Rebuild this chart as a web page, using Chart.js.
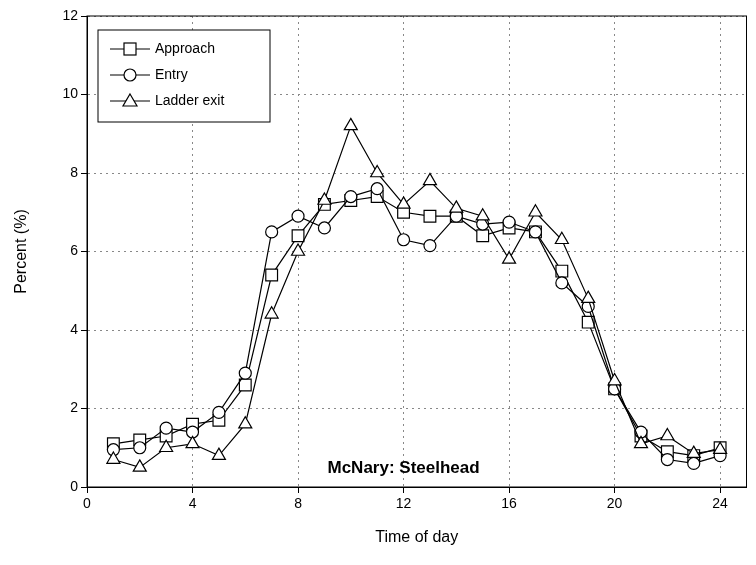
<!DOCTYPE html>
<html><head><meta charset="utf-8">
<script src="https://cdn.jsdelivr.net/npm/chart.js@4"></script>
<style>html,body{margin:0;padding:0;background:#fff}#c{width:756px;height:565px}</style>
</head><body><div id="c"><canvas id="cv" width="756" height="565"></canvas></div>
<script>
const hours=[1,2,3,4,5,6,7,8,9,10,11,12,13,14,15,16,17,18,19,20,21,22,23,24];
const approach=[1.1,1.2,1.3,1.6,1.7,2.6,5.4,6.4,7.2,7.3,7.4,7.0,6.9,6.9,6.4,6.6,6.5,5.5,4.2,2.5,1.3,0.9,0.8,1.0];
const entry=[0.95,1.0,1.5,1.4,1.9,2.9,6.5,6.9,6.6,7.4,7.6,6.3,6.15,6.9,6.7,6.75,6.5,5.2,4.6,2.5,1.4,0.7,0.6,0.8];
const ladder=[0.7,0.5,1.0,1.1,0.8,1.6,4.4,6.0,7.3,9.2,8.0,7.2,7.8,7.1,6.9,5.8,7.0,6.3,4.8,2.7,1.1,1.3,0.85,0.95];
const xTicks=[0,4,8,12,16,20,24];
const F='"Liberation Sans", Arial, sans-serif';
function ds(label,data,style,order){return{label,order,data:hours.map((h,i)=>({x:h,y:data[i]})),pointStyle:style,borderColor:'#000',backgroundColor:'#fff',borderWidth:1.2,pointRadius:style==='triangle'?7.5:style==='rect'?8.3:6,pointBorderWidth:1.2,pointBackgroundColor:'#fff',tension:0};}
const frame={id:'frame',afterDraw(c){const a=c.chartArea,x=c.ctx;x.save();x.strokeStyle='#000';x.lineWidth=1;x.strokeRect(a.left,a.top,a.right-a.left,a.bottom-a.top);
x.font='bold 17px '+F;x.fillStyle='#000';x.textAlign='center';x.fillText('McNary: Steelhead',c.scales.x.getPixelForValue(12),c.scales.y.getPixelForValue(0.5)+6);x.restore();}};
new Chart(document.getElementById('cv'),{type:'line',data:{datasets:[ds('Approach',approach,'rect',2),ds('Entry',entry,'circle',1),ds('Ladder exit',ladder,'triangle',0)]},
options:{responsive:false,animation:false,layout:{padding:{top:16,right:3,left:8,bottom:14}},
plugins:{legend:{display:false},tooltip:{enabled:false}},
scales:{x:{type:'linear',min:0,max:25,afterBuildTicks(s){s.ticks=xTicks.map(v=>({value:v}));},
grid:{color:'#888',tickColor:'#000',tickLength:6},border:{color:'#000',dash:[2,4]},
ticks:{color:'#000',font:{family:F,size:14},maxRotation:0},title:{display:true,text:'Time of day',color:'#000',font:{family:F,size:16},padding:{top:12}}},
y:{min:0,max:12,afterFit(s){s.width=79;},ticks:{stepSize:2,color:'#000',font:{family:F,size:14}},grid:{color:'#888',tickColor:'#000',tickLength:6},border:{color:'#000',dash:[2,4]},
title:{display:true,text:'Percent (%)',color:'#000',font:{family:F,size:16},padding:{bottom:14}}}}},
plugins:[frame,{id:'leg',afterDraw(c){const x=c.ctx;const L=98,T=30;x.save();x.fillStyle='#fff';x.strokeStyle='#000';x.lineWidth=1;x.fillRect(L,T,172,92);x.strokeRect(L,T,172,92);
const items=[['Approach','rect'],['Entry','circle'],['Ladder exit','triangle']];x.font='14px '+F;x.textBaseline='middle';
items.forEach((it,i)=>{const y=T+19+i*26;x.beginPath();x.moveTo(L+12,y);x.lineTo(L+52,y);x.stroke();
x.fillStyle='#fff';x.lineWidth=1.2;if(it[1]==='rect'){x.fillRect(L+26,y-6,12,12);x.strokeRect(L+26,y-6,12,12);}else if(it[1]==='circle'){x.beginPath();x.arc(L+32,y,6,0,7);x.fill();x.stroke();}else{x.beginPath();x.moveTo(L+32,y-7);x.lineTo(L+39,y+5);x.lineTo(L+25,y+5);x.closePath();x.fill();x.stroke();}
x.fillStyle='#000';x.fillText(it[0],L+57,y);});x.restore();}}]});
</script></body></html>
